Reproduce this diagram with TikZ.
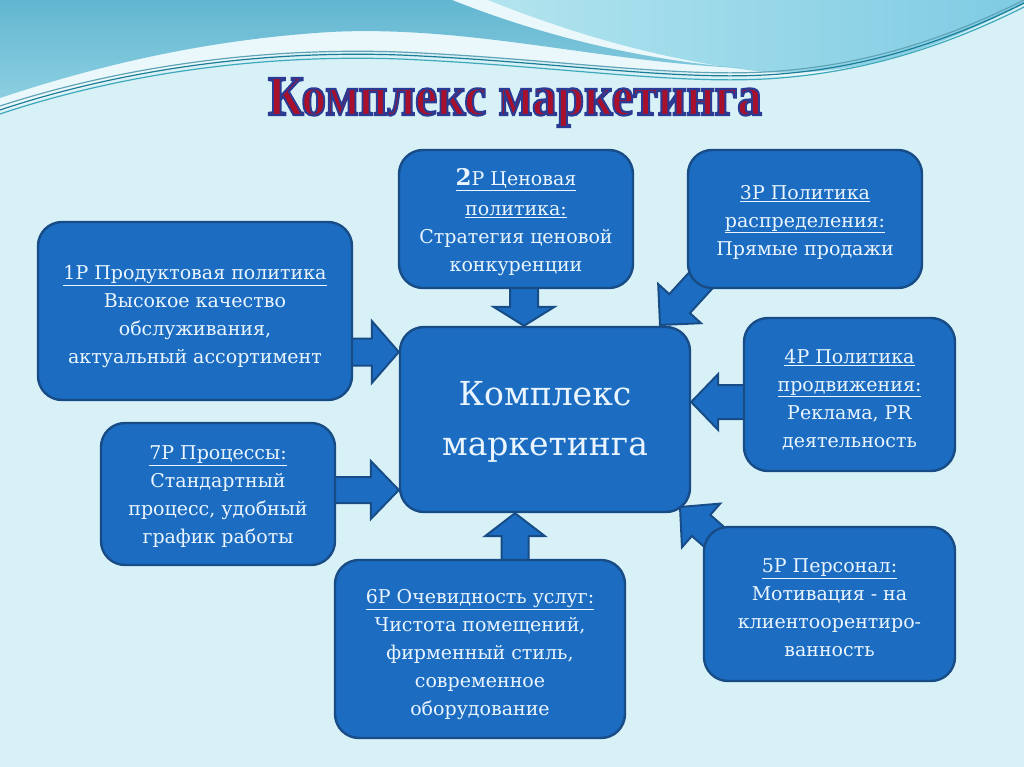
\documentclass[tikz,border=0pt]{standalone}
\usepackage{fontspec}
\setmainfont{DejaVu Serif}
\newfontfamily\titlefont{Liberation Serif}
\usetikzlibrary{calc}
\definecolor{bgc}{HTML}{D8F1F7}
\definecolor{toppale}{HTML}{EAF8FB}
\definecolor{topmidA}{HTML}{62B6D1}
\definecolor{topmidB}{HTML}{8CCFE1}
\definecolor{topcyanA}{HTML}{B2E4EE}
\definecolor{topcyanB}{HTML}{7FCBE3}
\definecolor{wlineA}{HTML}{1B7C96}
\definecolor{wlineB}{HTML}{3FA9BC}
\definecolor{boxfill}{HTML}{1C6DC2}
\definecolor{boxline}{HTML}{174C86}
\definecolor{boxtext}{HTML}{EAF5FF}
\definecolor{titlered}{HTML}{A8102C}
\pgfdeclarelayer{bglayer}
\pgfsetlayers{bglayer,main}
\newcommand\titletext{\resizebox{494pt}{37pt}{\fontsize{56}{60}\selectfont\titlefont\bfseries
  \special{pdf:literal direct 0.169 0.227 0.573 RG 2 Tr 2.2 w}Комплекс маркетинга\special{pdf:literal direct 0 Tr}}}
\newcommand\blockarrow[5]{%
  \coordinate (ba-n) at ($(#2)!#5!(#1)$);
  \draw[barrow] ($(#1)!#3!90:(#2)$) -- ($(ba-n)!#3!-90:(#1)$) -- ($(ba-n)!#4!-90:(#1)$) -- (#2)
    -- ($(ba-n)!#4!90:(#1)$) -- ($(ba-n)!#3!90:(#1)$) -- ($(#1)!#3!-90:(#2)$) -- cycle;}
\begin{document}
\begin{tikzpicture}[x=1pt,y=-1pt,
  box/.style={draw=boxline, fill=boxfill, line width=2.4pt, rounded corners=24pt, inner sep=0pt},
  boxtxt/.style={text=boxtext, align=center, inner sep=0pt, font=\fontsize{19}{28}\selectfont},
  barrow/.style={draw=boxline, fill=boxfill, line width=2pt, line join=miter},
  wline/.style={line width=1.2pt}]
\useasboundingbox (0,0) rectangle (1024,767);
\begin{pgfonlayer}{bglayer}
\fill[bgc] (0,0) rectangle (1024,767);
\fill[toppale] (0,0) -- (1024,0) -- (1024,4) .. controls (950,40) and (870,78) .. (760,76)
  .. controls (620,74) and (480,48) .. (340,52) .. controls (200,56) and (80,85) .. (0,112) -- cycle;
\shade[left color=topcyanA, right color=topcyanB] (488,0) -- (1024,0) -- (1024,4)
  .. controls (950,40) and (870,78) .. (765,72) .. controls (670,62) and (575,35) .. (488,0) -- cycle;
\shade[top color=topmidA, bottom color=topmidB] (0,0) -- (452,0) .. controls (540,35) and (640,60) .. (742,68)
  .. controls (600,62) and (470,25) .. (330,32) .. controls (200,40) and (90,68) .. (0,98) -- cycle;
\draw[wline, wlineB] (0,114) .. controls (120,74) and (260,54) .. (400,59) .. controls (560,66) and (680,86) .. (780,78) .. controls (880,70) and (960,39) .. (1024,7);
\draw[wline, wlineA] (0,110) .. controls (120,70) and (260,50) .. (400,55) .. controls (560,62) and (680,82) .. (780,74) .. controls (880,66) and (960,35) .. (1024,3);
\draw[wline, wlineA!70!white] (0,106) .. controls (120,67) and (260,47) .. (400,52) .. controls (560,59) and (680,79) .. (780,71) .. controls (880,63) and (960,32) .. (1024,0);
\end{pgfonlayer}

% title
\node[anchor=base, text=titlered, inner sep=0pt] (title) at (515,115) {\titletext};

% boxes
\node[box, minimum width=290pt, minimum height=185pt] (c) at (545,419.5) {};
\node[box, minimum width=314pt, minimum height=178pt] (b1) at (195,311) {};
\node[box, minimum width=234pt, minimum height=138pt] (b2) at (516,219) {};
\node[box, minimum width=234pt, minimum height=138pt] (b3) at (805,219) {};
\node[box, minimum width=211pt, minimum height=153pt] (b4) at (849.5,394.5) {};
\node[box, minimum width=234pt, minimum height=142pt] (b7) at (218,494) {};
\node[box, minimum width=290pt, minimum height=178pt] (b6) at (480,649) {};
\node[box, minimum width=251pt, minimum height=154pt] (b5) at (829.5,604) {};

% texts
\node[boxtxt, font=\fontsize{33}{50}\selectfont] (ct) at ([yshift=-2pt]c.center) {Комплекс\\маркетинга};
\node[boxtxt] (b1t) at ([yshift=-6pt]b1.center)
  {\underline{1P Продуктовая политика}\\Высокое качество\\обслуживания,\\актуальный ассортимент};
\node[boxtxt] (b2t) at ([yshift=-3pt]b2.center)
  {\underline{{\fontsize{23}{27}\selectfont\bfseries 2}P Ценовая}\\[2pt]\underline{политика:}\\Стратегия ценовой\\конкуренции};
\node[boxtxt] (b3t) at ([yshift=-3pt]b3.center)
  {\underline{3P Политика}\\\underline{распределения:}\\Прямые продажи};
\node[boxtxt] (b4t) at ([yshift=-5pt]b4.center)
  {\underline{4P Политика}\\\underline{продвижения:}\\Реклама, PR\\деятельность};
\node[boxtxt] (b7t) at ([yshift=-3pt]b7.center)
  {\underline{7P Процессы:}\\Стандартный\\процесс, удобный\\график работы};
\node[boxtxt] (b6t) at ([yshift=-6pt]b6.center)
  {\underline{6P Очевидность услуг:}\\Чистота помещений,\\фирменный стиль,\\современное\\оборудование};
\node[boxtxt] (b5t) at ([yshift=-4pt]b5.center)
  {\underline{5P Персонал:}\\Мотивация - на\\клиентоорентиро-\\ванность};

% arrows
\coordinate (a1s) at (335,352); \coordinate (a1t) at (c.west |- a1s);
\coordinate (a2s) at (524,280); \coordinate (a2t) at (c.north -| a2s);
\coordinate (a3s) at (714,266); \coordinate (a3t) at (660,325);
\coordinate (a4s) at (760,402); \coordinate (a4t) at (c.east |- a4s);
\coordinate (a7s) at (320,490); \coordinate (a7t) at (c.west |- a7s);
\coordinate (a6s) at (515,575); \coordinate (a6t) at (c.south -| a6s);
\coordinate (a5s) at (736,556); \coordinate (a5t) at (680,507);
\begin{pgfonlayer}{bglayer}
\blockarrow{a1s}{a1t}{13.5pt}{31pt}{27pt}
\blockarrow{a2s}{a2t}{14pt}{30.5pt}{19pt}
\blockarrow{a3s}{a3t}{14pt}{29pt}{29pt}
\blockarrow{a4s}{a4t}{17pt}{28pt}{27pt}
\blockarrow{a7s}{a7t}{13pt}{29pt}{28pt}
\blockarrow{a6s}{a6t}{13.5pt}{30pt}{23pt}
\blockarrow{a5s}{a5t}{14pt}{29pt}{28pt}
\end{pgfonlayer}
\end{tikzpicture}
\end{document}
